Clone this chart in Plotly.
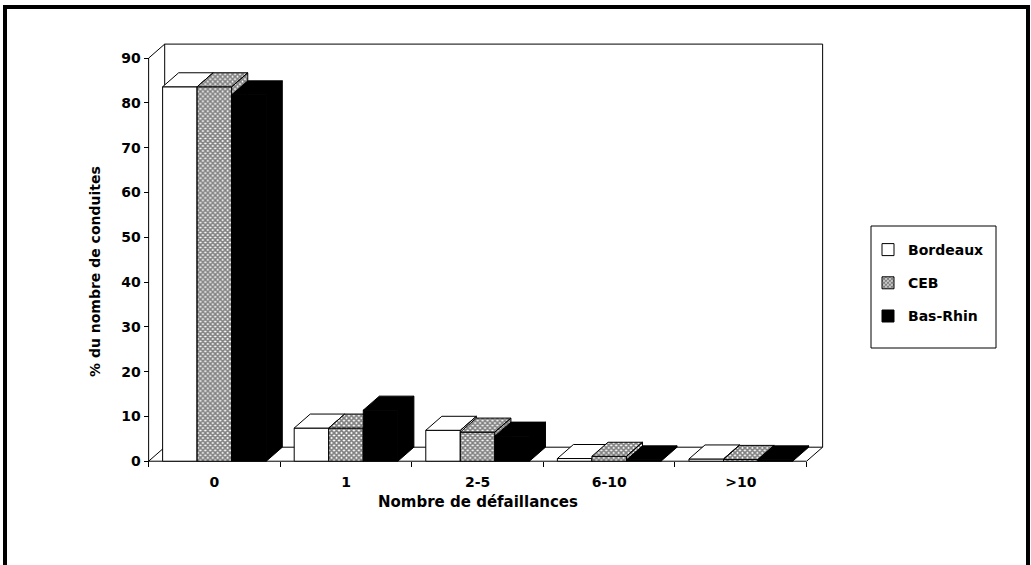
import plotly.graph_objects as go

# ---------------- data ----------------
categories = ["0", "1", "2-5", "6-10", ">10"]
series_names = ["Bordeaux", "CEB", "Bas-Rhin"]
bordeaux = [83.6, 7.4, 6.9, 0.6, 0.5]
ceb = [83.6, 7.4, 6.5, 1.1, 0.4]
bas_rhin = [81.8, 11.4, 5.6, 0.3, 0.3]
y_tick_values = [0, 10, 20, 30, 40, 50, 60, 70, 80, 90]
x_title = "Nombre de défaillances"
y_title = "% du nombre de conduites"

series_values = [bordeaux, ceb, bas_rhin]

# ---------------- styles / geometry ----------------
FONT = "DejaVu Sans"
W, H = 1031, 565
# plot area in pixels: left 146, right 825, top 42, bottom 463
ML = 146
MR = W - 825
MT = 42
MB = H - 463
PW, PH = W - ML - MR, H - MT - MB


def px_x(page_x):
    return (page_x - ML) / PW


def px_y(page_y):
    return (H - MB - page_y) / PH


XR = [-0.52, 4.64]
YR = [-0.4, 93.6]
BAR_W = 0.2625          # width of one bar (category units)
DX, DY = 0.122, 3.13    # pseudo-3D depth offset (x units, y units)
YMAX = 90

pattern_ceb = dict(shape="x", size=3.5, solidity=0.72, fgcolor="black", bgcolor="white")
styles = [
    dict(color="white", pattern=None),
    dict(color="white", pattern=pattern_ceb),
    dict(color="black", pattern=None),
]

fig = go.Figure()
axis_suffix = ["", "2", "3"]
xs = list(range(len(categories)))

for k, (name, vals, st) in enumerate(zip(series_names, series_values, styles)):
    xa = "x" + axis_suffix[k]
    ya = "y" + axis_suffix[k]
    offset = -1.5 * BAR_W + k * BAR_W
    marker = dict(color=st["color"], line=dict(color="black", width=1))
    if st["pattern"]:
        marker["pattern"] = st["pattern"]
    fig.add_trace(go.Bar(
        x=xs, y=vals, width=BAR_W, offset=offset, name=name,
        legendgroup=name, marker=marker, xaxis=xa, yaxis=ya,
        hoverinfo="x+y+name",
    ))
    # top and side faces of each bar (pseudo-3D), derived from the values
    pxs, pys = [], []
    for i, v in enumerate(vals):
        L = i + offset
        R = L + BAR_W
        top = [(L, v), (L + DX, v + DY), (R + DX, v + DY), (R, v), (L, v)]
        side = [(R, 0), (R + DX, DY), (R + DX, v + DY), (R, v), (R, 0)]
        for poly in (top, side):
            pxs += [p[0] for p in poly] + [None]
            pys += [p[1] for p in poly] + [None]
    sc = dict(
        x=pxs, y=pys, mode="lines", fill="toself", fillcolor=st["color"],
        line=dict(color="black", width=1), showlegend=False,
        hoverinfo="skip", xaxis=xa, yaxis=ya, legendgroup=name,
    )
    if st["pattern"]:
        sc["fillpattern"] = st["pattern"]
    fig.add_trace(go.Scatter(**sc))

x0, x1 = -0.5, len(categories) - 0.5
ypos_x = (x0 - XR[0]) / (XR[1] - XR[0])
xpos_y = (0 - YR[0]) / (YR[1] - YR[0])

tickfont = dict(family=FONT, size=14, color="black", weight="bold")

layout_axes = dict(
    xaxis=dict(
        range=XR, domain=[0, 1], anchor="free", position=xpos_y,
        tickmode="array", tickvals=xs, ticktext=categories,
        ticks="outside", ticklen=8, tickcolor="rgba(0,0,0,0)",
        showline=False, showgrid=False, zeroline=False, fixedrange=True,
        tickfont=tickfont, automargin=False,
        minor=dict(ticks="outside", ticklen=5, tickcolor="black", tickwidth=1,
                   tickmode="array", tickvals=[x0 + j for j in range(len(categories) + 1)],
                   showgrid=False),
    ),
    yaxis=dict(
        range=YR, domain=[0, 1], anchor="free", position=ypos_x,
        tickmode="array", tickvals=y_tick_values,
        ticks="outside", ticklen=5, tickcolor="black", tickwidth=1,
        showline=False, showgrid=False, zeroline=False, fixedrange=True,
        tickfont=tickfont, automargin=False,
    ),
)
for s in ["2", "3"]:
    layout_axes["xaxis" + s] = dict(range=XR, overlaying="x", anchor="y" + s,
                                     visible=False, fixedrange=True)
    layout_axes["yaxis" + s] = dict(range=YR, overlaying="y", anchor="x" + s,
                                     visible=False, fixedrange=True)

# ---------------- frame / walls / floor ----------------
shapes = []
shapes.append(dict(
    type="path", xref="x", yref="y", layer="below",
    path=f"M {x0},0 L {x1},0 L {x1 + DX},{DY} L {x0 + DX},{DY} Z",
    fillcolor="white", line=dict(color="black", width=1),
))
shapes.append(dict(
    type="path", xref="x", yref="y", layer="below",
    path=f"M {x0 + DX},{DY} L {x0 + DX},{YMAX + DY} L {x1 + DX},{YMAX + DY} L {x1 + DX},{DY}",
    line=dict(color="black", width=1),
))
shapes.append(dict(
    type="path", xref="x", yref="y", layer="below",
    path=f"M {x0},0 L {x0},{YMAX} L {x0 + DX},{YMAX + DY}",
    line=dict(color="black", width=1),
))
# outer frame
shapes.append(dict(
    type="rect", xref="paper", yref="paper",
    x0=px_x(5), x1=px_x(1028), y0=px_y(640), y1=px_y(7),
    line=dict(color="black", width=4), fillcolor="rgba(0,0,0,0)",
))
# legend box
shapes.append(dict(
    type="rect", xref="paper", yref="paper", layer="below",
    x0=px_x(871), x1=px_x(996), y0=px_y(348), y1=px_y(226),
    line=dict(color="black", width=1), fillcolor="white",
))

annotations = [
    dict(text=x_title, xref="x", yref="paper", x=2, y=px_y(502),
         xanchor="center", yanchor="middle", showarrow=False,
         font=dict(family=FONT, size=15, color="black", weight="bold")),
    dict(text=y_title, xref="paper", yref="paper", x=px_x(95),
         y=px_y(272), textangle=-90,
         xanchor="center", yanchor="middle", showarrow=False,
         font=dict(family=FONT, size=14, color="black", weight="bold")),
]

fig.update_layout(
    width=W, height=H,
    margin=dict(l=ML, r=MR, t=MT, b=MB, pad=0, autoexpand=False),
    paper_bgcolor="white", plot_bgcolor="white",
    barmode="overlay",
    shapes=shapes, annotations=annotations,
    showlegend=True,
    legend=dict(
        x=px_x(868), y=px_y(234), xanchor="left", yanchor="top",
        borderwidth=0, bgcolor="rgba(0,0,0,0)",
        font=dict(family=FONT, size=14, color="black", weight="bold"),
        tracegroupgap=12, traceorder="grouped",
    ),
    **layout_axes,
)

# remove the default 8px page margin so the figure sits at the window origin
fig.write_html("out.html", config={"displayModeBar": False},
               post_script="document.body.style.margin='0';")
